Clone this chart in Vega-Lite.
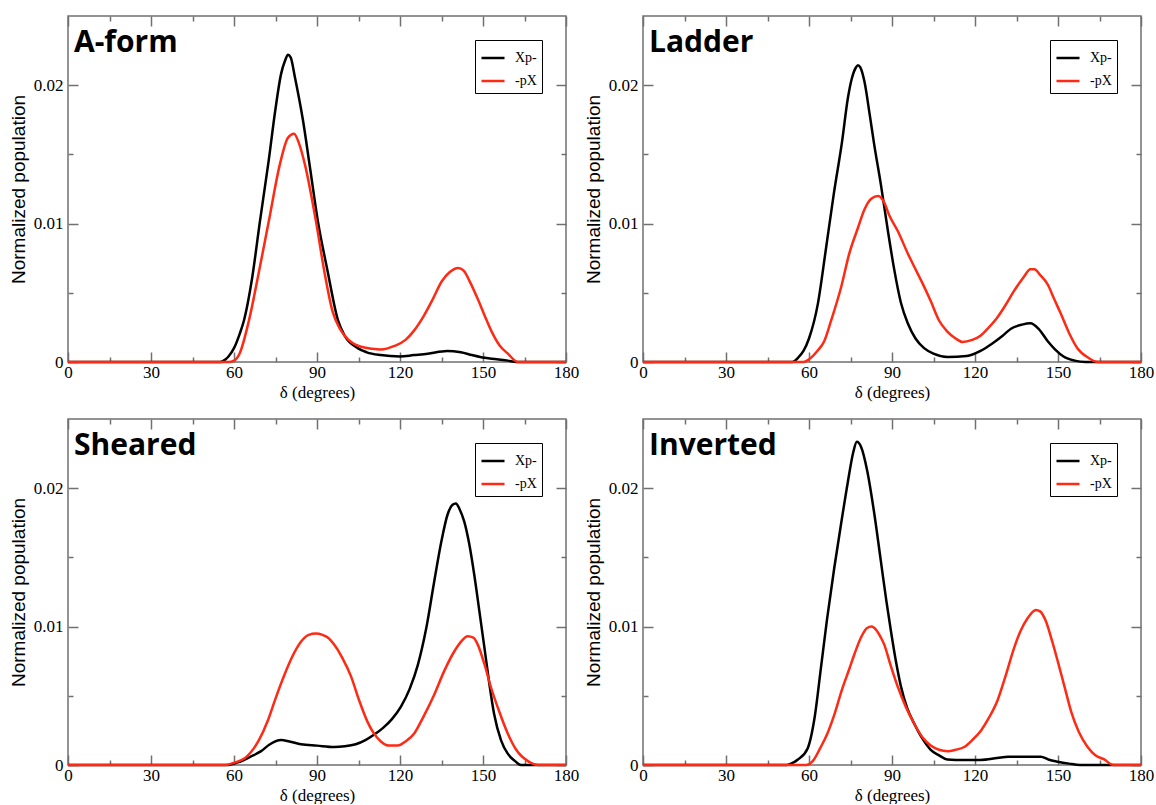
{
  "$schema": "https://vega.github.io/schema/vega-lite/v6.json",
  "background": "white",
  "padding": {"left": 8, "top": 14, "right": 5, "bottom": 0},
  "config": {
    "view": {"stroke": "#707070", "strokeWidth": 1.5},
    "legend": {"title": null, "orient": "top-right", "offset": 24, "strokeColor": "black", "fillColor": "white", "padding": 5, "symbolType": "stroke", "symbolSize": 530, "symbolStrokeWidth": 2.5, "labelFont": "Liberation Serif", "labelFontSize": 14, "labelColor": "black", "labelOffset": 9, "rowPadding": 3}
  },
  "datasets": {
    "curves": [
      {"panel":"A-form","series":"Xp-","delta":0,"pop":0},{"panel":"A-form","series":"Xp-","delta":50,"pop":0},{"panel":"A-form","series":"Xp-","delta":55,"pop":0},{"panel":"A-form","series":"Xp-","delta":57,"pop":0.0002},{"panel":"A-form","series":"Xp-","delta":58,"pop":0.0004},{"panel":"A-form","series":"Xp-","delta":60,"pop":0.001},{"panel":"A-form","series":"Xp-","delta":62,"pop":0.002},{"panel":"A-form","series":"Xp-","delta":63.6,"pop":0.003},{"panel":"A-form","series":"Xp-","delta":66.5,"pop":0.006},{"panel":"A-form","series":"Xp-","delta":69.4,"pop":0.0102},{"panel":"A-form","series":"Xp-","delta":72.5,"pop":0.0145},{"panel":"A-form","series":"Xp-","delta":75,"pop":0.0183},{"panel":"A-form","series":"Xp-","delta":77,"pop":0.0208},{"panel":"A-form","series":"Xp-","delta":78.5,"pop":0.0218},{"panel":"A-form","series":"Xp-","delta":79.5,"pop":0.0222},{"panel":"A-form","series":"Xp-","delta":80.5,"pop":0.022},{"panel":"A-form","series":"Xp-","delta":82,"pop":0.0206},{"panel":"A-form","series":"Xp-","delta":84.9,"pop":0.0175},{"panel":"A-form","series":"Xp-","delta":87.5,"pop":0.014},{"panel":"A-form","series":"Xp-","delta":90.3,"pop":0.0102},{"panel":"A-form","series":"Xp-","delta":93.8,"pop":0.0066},{"panel":"A-form","series":"Xp-","delta":97.6,"pop":0.003},{"panel":"A-form","series":"Xp-","delta":100,"pop":0.0019},{"panel":"A-form","series":"Xp-","delta":104.7,"pop":0.001},{"panel":"A-form","series":"Xp-","delta":108,"pop":0.0007},{"panel":"A-form","series":"Xp-","delta":113,"pop":0.0005},{"panel":"A-form","series":"Xp-","delta":120,"pop":0.0004},{"panel":"A-form","series":"Xp-","delta":125,"pop":0.0005},{"panel":"A-form","series":"Xp-","delta":130,"pop":0.0006},{"panel":"A-form","series":"Xp-","delta":137,"pop":0.0008},{"panel":"A-form","series":"Xp-","delta":142,"pop":0.0007},{"panel":"A-form","series":"Xp-","delta":146,"pop":0.0005},{"panel":"A-form","series":"Xp-","delta":149,"pop":0.00036},{"panel":"A-form","series":"Xp-","delta":155,"pop":0.0002},{"panel":"A-form","series":"Xp-","delta":159,"pop":0.0001},{"panel":"A-form","series":"Xp-","delta":162,"pop":0},{"panel":"A-form","series":"Xp-","delta":180,"pop":0},
      {"panel":"A-form","series":"-pX","delta":0,"pop":0},{"panel":"A-form","series":"-pX","delta":58,"pop":0},{"panel":"A-form","series":"-pX","delta":60,"pop":0.0001},{"panel":"A-form","series":"-pX","delta":62,"pop":0.0006},{"panel":"A-form","series":"-pX","delta":65.4,"pop":0.003},{"panel":"A-form","series":"-pX","delta":69,"pop":0.0065},{"panel":"A-form","series":"-pX","delta":72.6,"pop":0.0102},{"panel":"A-form","series":"-pX","delta":76.6,"pop":0.0143},{"panel":"A-form","series":"-pX","delta":79.5,"pop":0.0162},{"panel":"A-form","series":"-pX","delta":81.7,"pop":0.0165},{"panel":"A-form","series":"-pX","delta":83.5,"pop":0.0158},{"panel":"A-form","series":"-pX","delta":85.6,"pop":0.0143},{"panel":"A-form","series":"-pX","delta":89.6,"pop":0.0102},{"panel":"A-form","series":"-pX","delta":92.6,"pop":0.0066},{"panel":"A-form","series":"-pX","delta":95.7,"pop":0.0036},{"panel":"A-form","series":"-pX","delta":98,"pop":0.0025},{"panel":"A-form","series":"-pX","delta":100,"pop":0.0019},{"panel":"A-form","series":"-pX","delta":103,"pop":0.00135},{"panel":"A-form","series":"-pX","delta":106,"pop":0.0011},{"panel":"A-form","series":"-pX","delta":110,"pop":0.00095},{"panel":"A-form","series":"-pX","delta":113,"pop":0.0009},{"panel":"A-form","series":"-pX","delta":118,"pop":0.00116},{"panel":"A-form","series":"-pX","delta":122,"pop":0.0016},{"panel":"A-form","series":"-pX","delta":125,"pop":0.00225},{"panel":"A-form","series":"-pX","delta":128.5,"pop":0.0033},{"panel":"A-form","series":"-pX","delta":132,"pop":0.0046},{"panel":"A-form","series":"-pX","delta":135,"pop":0.0058},{"panel":"A-form","series":"-pX","delta":138,"pop":0.0065},{"panel":"A-form","series":"-pX","delta":141,"pop":0.0068},{"panel":"A-form","series":"-pX","delta":143,"pop":0.0066},{"panel":"A-form","series":"-pX","delta":145.5,"pop":0.0057},{"panel":"A-form","series":"-pX","delta":148,"pop":0.0046},{"panel":"A-form","series":"-pX","delta":150.5,"pop":0.0034},{"panel":"A-form","series":"-pX","delta":153,"pop":0.00225},{"panel":"A-form","series":"-pX","delta":156,"pop":0.0012},{"panel":"A-form","series":"-pX","delta":159,"pop":0.0006},{"panel":"A-form","series":"-pX","delta":162.6,"pop":0},{"panel":"A-form","series":"-pX","delta":180,"pop":0},
      {"panel":"Ladder","series":"Xp-","delta":0,"pop":0},{"panel":"Ladder","series":"Xp-","delta":54,"pop":0},{"panel":"Ladder","series":"Xp-","delta":56,"pop":0.0003},{"panel":"Ladder","series":"Xp-","delta":58,"pop":0.0008},{"panel":"Ladder","series":"Xp-","delta":60,"pop":0.0017},{"panel":"Ladder","series":"Xp-","delta":63.2,"pop":0.0042},{"panel":"Ladder","series":"Xp-","delta":66,"pop":0.008},{"panel":"Ladder","series":"Xp-","delta":69,"pop":0.0122},{"panel":"Ladder","series":"Xp-","delta":72,"pop":0.016},{"panel":"Ladder","series":"Xp-","delta":74,"pop":0.019},{"panel":"Ladder","series":"Xp-","delta":75.5,"pop":0.0205},{"panel":"Ladder","series":"Xp-","delta":77,"pop":0.0213},{"panel":"Ladder","series":"Xp-","delta":77.7,"pop":0.02145},{"panel":"Ladder","series":"Xp-","delta":78.5,"pop":0.0213},{"panel":"Ladder","series":"Xp-","delta":80,"pop":0.0203},{"panel":"Ladder","series":"Xp-","delta":82,"pop":0.0178},{"panel":"Ladder","series":"Xp-","delta":83.5,"pop":0.0158},{"panel":"Ladder","series":"Xp-","delta":86,"pop":0.0128},{"panel":"Ladder","series":"Xp-","delta":88.5,"pop":0.0095},{"panel":"Ladder","series":"Xp-","delta":90.7,"pop":0.0068},{"panel":"Ladder","series":"Xp-","delta":93.2,"pop":0.0043},{"panel":"Ladder","series":"Xp-","delta":95.7,"pop":0.0028},{"panel":"Ladder","series":"Xp-","delta":98.5,"pop":0.0017},{"panel":"Ladder","series":"Xp-","delta":101.6,"pop":0.001},{"panel":"Ladder","series":"Xp-","delta":105,"pop":0.0006},{"panel":"Ladder","series":"Xp-","delta":110,"pop":0.00036},{"panel":"Ladder","series":"Xp-","delta":117,"pop":0.00043},{"panel":"Ladder","series":"Xp-","delta":122,"pop":0.0008},{"panel":"Ladder","series":"Xp-","delta":126,"pop":0.0013},{"panel":"Ladder","series":"Xp-","delta":130,"pop":0.0019},{"panel":"Ladder","series":"Xp-","delta":133,"pop":0.0024},{"panel":"Ladder","series":"Xp-","delta":137,"pop":0.0027},{"panel":"Ladder","series":"Xp-","delta":140,"pop":0.0028},{"panel":"Ladder","series":"Xp-","delta":143,"pop":0.0024},{"panel":"Ladder","series":"Xp-","delta":146.3,"pop":0.0015},{"panel":"Ladder","series":"Xp-","delta":149,"pop":0.0009},{"panel":"Ladder","series":"Xp-","delta":152,"pop":0.0004},{"panel":"Ladder","series":"Xp-","delta":156,"pop":0.0001},{"panel":"Ladder","series":"Xp-","delta":160,"pop":0},{"panel":"Ladder","series":"Xp-","delta":180,"pop":0},
      {"panel":"Ladder","series":"-pX","delta":0,"pop":0},{"panel":"Ladder","series":"-pX","delta":58,"pop":0},{"panel":"Ladder","series":"-pX","delta":60,"pop":0.0002},{"panel":"Ladder","series":"-pX","delta":63,"pop":0.0008},{"panel":"Ladder","series":"-pX","delta":65.5,"pop":0.0015},{"panel":"Ladder","series":"-pX","delta":68,"pop":0.003},{"panel":"Ladder","series":"-pX","delta":71.6,"pop":0.0054},{"panel":"Ladder","series":"-pX","delta":74.5,"pop":0.0078},{"panel":"Ladder","series":"-pX","delta":77.7,"pop":0.0097},{"panel":"Ladder","series":"-pX","delta":80,"pop":0.011},{"panel":"Ladder","series":"-pX","delta":82.5,"pop":0.0118},{"panel":"Ladder","series":"-pX","delta":85,"pop":0.012},{"panel":"Ladder","series":"-pX","delta":87,"pop":0.0116},{"panel":"Ladder","series":"-pX","delta":89,"pop":0.0106},{"panel":"Ladder","series":"-pX","delta":92,"pop":0.0095},{"panel":"Ladder","series":"-pX","delta":95.8,"pop":0.0078},{"panel":"Ladder","series":"-pX","delta":98,"pop":0.0069},{"panel":"Ladder","series":"-pX","delta":101,"pop":0.0057},{"panel":"Ladder","series":"-pX","delta":104,"pop":0.0044},{"panel":"Ladder","series":"-pX","delta":107,"pop":0.003},{"panel":"Ladder","series":"-pX","delta":110,"pop":0.0022},{"panel":"Ladder","series":"-pX","delta":113,"pop":0.0017},{"panel":"Ladder","series":"-pX","delta":115.5,"pop":0.00145},{"panel":"Ladder","series":"-pX","delta":119,"pop":0.0016},{"panel":"Ladder","series":"-pX","delta":122,"pop":0.0019},{"panel":"Ladder","series":"-pX","delta":125,"pop":0.0025},{"panel":"Ladder","series":"-pX","delta":128,"pop":0.0032},{"panel":"Ladder","series":"-pX","delta":131,"pop":0.0041},{"panel":"Ladder","series":"-pX","delta":134,"pop":0.0051},{"panel":"Ladder","series":"-pX","delta":137.5,"pop":0.0061},{"panel":"Ladder","series":"-pX","delta":140,"pop":0.0067},{"panel":"Ladder","series":"-pX","delta":141.5,"pop":0.0067},{"panel":"Ladder","series":"-pX","delta":143.5,"pop":0.0063},{"panel":"Ladder","series":"-pX","delta":146.3,"pop":0.0056},{"panel":"Ladder","series":"-pX","delta":148.5,"pop":0.0046},{"panel":"Ladder","series":"-pX","delta":151,"pop":0.0035},{"panel":"Ladder","series":"-pX","delta":154,"pop":0.0021},{"panel":"Ladder","series":"-pX","delta":157,"pop":0.001},{"panel":"Ladder","series":"-pX","delta":161,"pop":0.0003},{"panel":"Ladder","series":"-pX","delta":164.5,"pop":0},{"panel":"Ladder","series":"-pX","delta":180,"pop":0},
      {"panel":"Sheared","series":"Xp-","delta":0,"pop":0},{"panel":"Sheared","series":"Xp-","delta":58,"pop":0},{"panel":"Sheared","series":"Xp-","delta":60,"pop":0.0001},{"panel":"Sheared","series":"Xp-","delta":63,"pop":0.0003},{"panel":"Sheared","series":"Xp-","delta":66,"pop":0.0006},{"panel":"Sheared","series":"Xp-","delta":69.8,"pop":0.001},{"panel":"Sheared","series":"Xp-","delta":73,"pop":0.0015},{"panel":"Sheared","series":"Xp-","delta":77,"pop":0.0018},{"panel":"Sheared","series":"Xp-","delta":80,"pop":0.0017},{"panel":"Sheared","series":"Xp-","delta":84.2,"pop":0.0015},{"panel":"Sheared","series":"Xp-","delta":90,"pop":0.0014},{"panel":"Sheared","series":"Xp-","delta":96.2,"pop":0.0013},{"panel":"Sheared","series":"Xp-","delta":100,"pop":0.00135},{"panel":"Sheared","series":"Xp-","delta":104,"pop":0.0015},{"panel":"Sheared","series":"Xp-","delta":107.5,"pop":0.0018},{"panel":"Sheared","series":"Xp-","delta":110.7,"pop":0.0022},{"panel":"Sheared","series":"Xp-","delta":114,"pop":0.0027},{"panel":"Sheared","series":"Xp-","delta":117,"pop":0.0033},{"panel":"Sheared","series":"Xp-","delta":120.3,"pop":0.0042},{"panel":"Sheared","series":"Xp-","delta":123.5,"pop":0.0055},{"panel":"Sheared","series":"Xp-","delta":126.4,"pop":0.0072},{"panel":"Sheared","series":"Xp-","delta":129.5,"pop":0.0099},{"panel":"Sheared","series":"Xp-","delta":132.4,"pop":0.0133},{"panel":"Sheared","series":"Xp-","delta":135,"pop":0.0162},{"panel":"Sheared","series":"Xp-","delta":137.2,"pop":0.0181},{"panel":"Sheared","series":"Xp-","delta":139,"pop":0.0188},{"panel":"Sheared","series":"Xp-","delta":140.2,"pop":0.0189},{"panel":"Sheared","series":"Xp-","delta":141.5,"pop":0.0185},{"panel":"Sheared","series":"Xp-","delta":143.2,"pop":0.0176},{"panel":"Sheared","series":"Xp-","delta":145,"pop":0.016},{"panel":"Sheared","series":"Xp-","delta":146.8,"pop":0.0138},{"panel":"Sheared","series":"Xp-","delta":148.7,"pop":0.0111},{"panel":"Sheared","series":"Xp-","delta":150.5,"pop":0.0085},{"panel":"Sheared","series":"Xp-","delta":152.2,"pop":0.006},{"panel":"Sheared","series":"Xp-","delta":154,"pop":0.0037},{"panel":"Sheared","series":"Xp-","delta":156.5,"pop":0.0018},{"panel":"Sheared","series":"Xp-","delta":159,"pop":0.0008},{"panel":"Sheared","series":"Xp-","delta":161.5,"pop":0.0003},{"panel":"Sheared","series":"Xp-","delta":163.7,"pop":0},{"panel":"Sheared","series":"Xp-","delta":180,"pop":0},
      {"panel":"Sheared","series":"-pX","delta":0,"pop":0},{"panel":"Sheared","series":"-pX","delta":57,"pop":0},{"panel":"Sheared","series":"-pX","delta":59,"pop":0.0001},{"panel":"Sheared","series":"-pX","delta":62,"pop":0.0003},{"panel":"Sheared","series":"-pX","delta":64,"pop":0.0005},{"panel":"Sheared","series":"-pX","delta":66,"pop":0.0009},{"panel":"Sheared","series":"-pX","delta":69,"pop":0.0018},{"panel":"Sheared","series":"-pX","delta":72.2,"pop":0.0032},{"panel":"Sheared","series":"-pX","delta":75,"pop":0.0048},{"panel":"Sheared","series":"-pX","delta":78.2,"pop":0.0065},{"panel":"Sheared","series":"-pX","delta":81,"pop":0.0078},{"panel":"Sheared","series":"-pX","delta":84.2,"pop":0.0089},{"panel":"Sheared","series":"-pX","delta":87,"pop":0.0094},{"panel":"Sheared","series":"-pX","delta":89.6,"pop":0.0095},{"panel":"Sheared","series":"-pX","delta":92,"pop":0.0094},{"panel":"Sheared","series":"-pX","delta":94,"pop":0.0092},{"panel":"Sheared","series":"-pX","delta":96.2,"pop":0.0087},{"panel":"Sheared","series":"-pX","delta":99,"pop":0.0078},{"panel":"Sheared","series":"-pX","delta":102.3,"pop":0.0064},{"panel":"Sheared","series":"-pX","delta":105,"pop":0.0048},{"panel":"Sheared","series":"-pX","delta":108.3,"pop":0.0031},{"panel":"Sheared","series":"-pX","delta":110.5,"pop":0.0023},{"panel":"Sheared","series":"-pX","delta":113.1,"pop":0.0017},{"panel":"Sheared","series":"-pX","delta":116,"pop":0.0014},{"panel":"Sheared","series":"-pX","delta":119.2,"pop":0.0014},{"panel":"Sheared","series":"-pX","delta":122,"pop":0.0017},{"panel":"Sheared","series":"-pX","delta":125.2,"pop":0.0023},{"panel":"Sheared","series":"-pX","delta":128.5,"pop":0.0035},{"panel":"Sheared","series":"-pX","delta":132.4,"pop":0.0051},{"panel":"Sheared","series":"-pX","delta":136,"pop":0.0068},{"panel":"Sheared","series":"-pX","delta":139.6,"pop":0.0082},{"panel":"Sheared","series":"-pX","delta":142,"pop":0.0089},{"panel":"Sheared","series":"-pX","delta":144.5,"pop":0.0093},{"panel":"Sheared","series":"-pX","delta":146.5,"pop":0.0092},{"panel":"Sheared","series":"-pX","delta":148.1,"pop":0.0087},{"panel":"Sheared","series":"-pX","delta":150.5,"pop":0.0073},{"panel":"Sheared","series":"-pX","delta":152.9,"pop":0.0056},{"panel":"Sheared","series":"-pX","delta":155.8,"pop":0.0039},{"panel":"Sheared","series":"-pX","delta":158.9,"pop":0.0023},{"panel":"Sheared","series":"-pX","delta":162,"pop":0.0011},{"panel":"Sheared","series":"-pX","delta":166.1,"pop":0.0003},{"panel":"Sheared","series":"-pX","delta":170,"pop":0},{"panel":"Sheared","series":"-pX","delta":180,"pop":0},
      {"panel":"Inverted","series":"Xp-","delta":0,"pop":0},{"panel":"Inverted","series":"Xp-","delta":52,"pop":0},{"panel":"Inverted","series":"Xp-","delta":53.5,"pop":0.0001},{"panel":"Inverted","series":"Xp-","delta":56,"pop":0.0004},{"panel":"Inverted","series":"Xp-","delta":59.5,"pop":0.0012},{"panel":"Inverted","series":"Xp-","delta":62,"pop":0.0034},{"panel":"Inverted","series":"Xp-","delta":64.3,"pop":0.007},{"panel":"Inverted","series":"Xp-","delta":66.5,"pop":0.0105},{"panel":"Inverted","series":"Xp-","delta":69.1,"pop":0.0142},{"panel":"Inverted","series":"Xp-","delta":71.5,"pop":0.0173},{"panel":"Inverted","series":"Xp-","delta":74,"pop":0.0204},{"panel":"Inverted","series":"Xp-","delta":76,"pop":0.0226},{"panel":"Inverted","series":"Xp-","delta":77.3,"pop":0.02335},{"panel":"Inverted","series":"Xp-","delta":78.8,"pop":0.023},{"panel":"Inverted","series":"Xp-","delta":81,"pop":0.0213},{"panel":"Inverted","series":"Xp-","delta":83.5,"pop":0.0183},{"panel":"Inverted","series":"Xp-","delta":86,"pop":0.0147},{"panel":"Inverted","series":"Xp-","delta":88,"pop":0.0118},{"panel":"Inverted","series":"Xp-","delta":89.6,"pop":0.0097},{"panel":"Inverted","series":"Xp-","delta":91.5,"pop":0.0074},{"panel":"Inverted","series":"Xp-","delta":93.2,"pop":0.0057},{"panel":"Inverted","series":"Xp-","delta":95.5,"pop":0.0041},{"panel":"Inverted","series":"Xp-","delta":98,"pop":0.003},{"panel":"Inverted","series":"Xp-","delta":101,"pop":0.0019},{"panel":"Inverted","series":"Xp-","delta":104,"pop":0.0011},{"panel":"Inverted","series":"Xp-","delta":107,"pop":0.0007},{"panel":"Inverted","series":"Xp-","delta":110,"pop":0.0004},{"panel":"Inverted","series":"Xp-","delta":116,"pop":0.00036},{"panel":"Inverted","series":"Xp-","delta":122,"pop":0.00036},{"panel":"Inverted","series":"Xp-","delta":128,"pop":0.0005},{"panel":"Inverted","series":"Xp-","delta":132,"pop":0.0006},{"panel":"Inverted","series":"Xp-","delta":136.6,"pop":0.0006},{"panel":"Inverted","series":"Xp-","delta":143.8,"pop":0.0006},{"panel":"Inverted","series":"Xp-","delta":146.5,"pop":0.0004},{"panel":"Inverted","series":"Xp-","delta":149.9,"pop":0.00024},{"panel":"Inverted","series":"Xp-","delta":154,"pop":0.0001},{"panel":"Inverted","series":"Xp-","delta":158,"pop":0},{"panel":"Inverted","series":"Xp-","delta":180,"pop":0},
      {"panel":"Inverted","series":"-pX","delta":0,"pop":0},{"panel":"Inverted","series":"-pX","delta":59,"pop":0},{"panel":"Inverted","series":"-pX","delta":61.8,"pop":0.0004},{"panel":"Inverted","series":"-pX","delta":64,"pop":0.0012},{"panel":"Inverted","series":"-pX","delta":66.5,"pop":0.0022},{"panel":"Inverted","series":"-pX","delta":69.1,"pop":0.0036},{"panel":"Inverted","series":"-pX","delta":72,"pop":0.0055},{"panel":"Inverted","series":"-pX","delta":74.5,"pop":0.0069},{"panel":"Inverted","series":"-pX","delta":76.4,"pop":0.008},{"panel":"Inverted","series":"-pX","delta":79,"pop":0.0093},{"panel":"Inverted","series":"-pX","delta":81,"pop":0.0099},{"panel":"Inverted","series":"-pX","delta":82.6,"pop":0.01},{"panel":"Inverted","series":"-pX","delta":84.5,"pop":0.0097},{"panel":"Inverted","series":"-pX","delta":86,"pop":0.0092},{"panel":"Inverted","series":"-pX","delta":87.2,"pop":0.0087},{"panel":"Inverted","series":"-pX","delta":89.5,"pop":0.0072},{"panel":"Inverted","series":"-pX","delta":92,"pop":0.0057},{"panel":"Inverted","series":"-pX","delta":95,"pop":0.0042},{"panel":"Inverted","series":"-pX","delta":98,"pop":0.003},{"panel":"Inverted","series":"-pX","delta":101,"pop":0.002},{"panel":"Inverted","series":"-pX","delta":104,"pop":0.0014},{"panel":"Inverted","series":"-pX","delta":107,"pop":0.0011},{"panel":"Inverted","series":"-pX","delta":110.1,"pop":0.001},{"panel":"Inverted","series":"-pX","delta":113,"pop":0.0011},{"panel":"Inverted","series":"-pX","delta":116.1,"pop":0.0013},{"panel":"Inverted","series":"-pX","delta":119,"pop":0.0018},{"panel":"Inverted","series":"-pX","delta":122.2,"pop":0.0025},{"panel":"Inverted","series":"-pX","delta":125,"pop":0.0034},{"panel":"Inverted","series":"-pX","delta":128.2,"pop":0.0047},{"panel":"Inverted","series":"-pX","delta":131,"pop":0.0064},{"panel":"Inverted","series":"-pX","delta":134.2,"pop":0.0085},{"panel":"Inverted","series":"-pX","delta":136.5,"pop":0.0097},{"panel":"Inverted","series":"-pX","delta":139,"pop":0.0106},{"panel":"Inverted","series":"-pX","delta":142,"pop":0.0112},{"panel":"Inverted","series":"-pX","delta":143.5,"pop":0.0111},{"panel":"Inverted","series":"-pX","delta":145.6,"pop":0.0104},{"panel":"Inverted","series":"-pX","delta":147.8,"pop":0.009},{"panel":"Inverted","series":"-pX","delta":149.9,"pop":0.0075},{"panel":"Inverted","series":"-pX","delta":152.3,"pop":0.0057},{"panel":"Inverted","series":"-pX","delta":154.7,"pop":0.0039},{"panel":"Inverted","series":"-pX","delta":157.5,"pop":0.0024},{"panel":"Inverted","series":"-pX","delta":160.7,"pop":0.0013},{"panel":"Inverted","series":"-pX","delta":163.5,"pop":0.0007},{"panel":"Inverted","series":"-pX","delta":166.7,"pop":0.0004},{"panel":"Inverted","series":"-pX","delta":170,"pop":0},{"panel":"Inverted","series":"-pX","delta":180,"pop":0}
    ]
  },
  "columns": 2,
  "bounds": "flush",
  "spacing": {"row": 57, "column": 77},
  "resolve": {"scale": {"color": "independent"}, "legend": {"color": "independent"}},
  "concat": [
    {
      "width": 498, "height": 346,
      "layer": [
        {
          "data": {"name": "curves"},
          "transform": [{"filter": "datum.panel === 'A-form'"}],
          "mark": {"type": "line", "strokeWidth": 2.5, "interpolate": "monotone"},
          "encoding": {
            "x": {"field": "delta", "type": "quantitative", "scale": {"domain": [0, 180], "nice": false}, "axis": {"orient": "bottom", "grid": false, "domain": false, "tickColor": "#707070", "tickWidth": 1.5, "values": [0,15,30,45,60,75,90,105,120,135,150,165,180], "tickSize": {"condition": {"test": "datum.value % 30 === 0", "value": -10}, "value": -5}, "labelPadding": 12, "labelFlush": false, "labelOverlap": false, "labelFont": "Liberation Serif", "labelFontSize": 17, "labelColor": "black", "labelExpr": "datum.value % 30 === 0 ? datum.label : ''", "title": "δ (degrees)", "titleFont": "Liberation Serif", "titleFontSize": 17, "titleFontWeight": "normal", "titleColor": "black", "titlePadding": -1}},
            "y": {"field": "pop", "type": "quantitative", "scale": {"domain": [0, 0.025], "nice": false}, "axis": {"orient": "left", "grid": false, "domain": false, "tickColor": "#707070", "tickWidth": 1.5, "values": [0,0.005,0.01,0.015,0.02], "tickSize": {"condition": {"test": "round(datum.value*200) % 2 === 0", "value": -10}, "value": -5}, "labelPadding": 15, "labelFont": "Liberation Serif", "labelFontSize": 17, "labelColor": "black", "labelExpr": "round(datum.value*200) % 2 === 0 ? (datum.value === 0 ? '0' : format(datum.value, '.2f')) : ''", "title": "Normalized population", "titleFont": "Liberation Sans", "titleFontSize": 19, "titleFontWeight": "normal", "titleColor": "black", "titlePadding": 5}},
            "color": {"field": "series", "type": "nominal", "scale": {"domain": ["Xp-", "-pX"], "range": ["#000000", "#ff2a14"]}}
          }
        },
        {
          "data": {"name": "curves"},
          "transform": [{"filter": "datum.panel === 'A-form'"}],
          "mark": {"type": "line", "strokeOpacity": 0},
          "encoding": {
            "x": {"field": "delta", "type": "quantitative", "axis": {"orient": "top", "grid": false, "domain": false, "tickColor": "#707070", "tickWidth": 1.5, "values": [0,15,30,45,60,75,90,105,120,135,150,165,180], "tickSize": {"condition": {"test": "datum.value % 30 === 0", "value": -10}, "value": -5}, "labels": false, "title": null}},
            "y": {"field": "pop", "type": "quantitative", "axis": {"orient": "right", "grid": false, "domain": false, "tickColor": "#707070", "tickWidth": 1.5, "values": [0,0.005,0.01,0.015,0.02], "tickSize": {"condition": {"test": "round(datum.value*200) % 2 === 0", "value": -10}, "value": -5}, "labels": false, "title": null}},
            "detail": {"field": "series"}
          }
        },
        {
          "data": {"values": [{"name": "A-form"}]},
          "mark": {"type": "text", "font": "Open Sans", "fontSize": 30, "fontWeight": "bold", "align": "left", "baseline": "alphabetic", "dx": 6, "dy": 36, "color": "black"},
          "encoding": {
            "x": {"datum": 0, "type": "quantitative", "axis": null},
            "y": {"datum": 0.025, "type": "quantitative", "axis": null},
            "text": {"field": "name"}
          }
        }
      ],
      "resolve": {"axis": {"x": "independent", "y": "independent"}}
    },
    {
      "width": 498, "height": 346,
      "layer": [
        {
          "data": {"name": "curves"},
          "transform": [{"filter": "datum.panel === 'Ladder'"}],
          "mark": {"type": "line", "strokeWidth": 2.5, "interpolate": "monotone"},
          "encoding": {
            "x": {"field": "delta", "type": "quantitative", "scale": {"domain": [0, 180], "nice": false}, "axis": {"orient": "bottom", "grid": false, "domain": false, "tickColor": "#707070", "tickWidth": 1.5, "values": [0,15,30,45,60,75,90,105,120,135,150,165,180], "tickSize": {"condition": {"test": "datum.value % 30 === 0", "value": -10}, "value": -5}, "labelPadding": 12, "labelFlush": false, "labelOverlap": false, "labelFont": "Liberation Serif", "labelFontSize": 17, "labelColor": "black", "labelExpr": "datum.value % 30 === 0 ? datum.label : ''", "title": "δ (degrees)", "titleFont": "Liberation Serif", "titleFontSize": 17, "titleFontWeight": "normal", "titleColor": "black", "titlePadding": -1}},
            "y": {"field": "pop", "type": "quantitative", "scale": {"domain": [0, 0.025], "nice": false}, "axis": {"orient": "left", "grid": false, "domain": false, "tickColor": "#707070", "tickWidth": 1.5, "values": [0,0.005,0.01,0.015,0.02], "tickSize": {"condition": {"test": "round(datum.value*200) % 2 === 0", "value": -10}, "value": -5}, "labelPadding": 15, "labelFont": "Liberation Serif", "labelFontSize": 17, "labelColor": "black", "labelExpr": "round(datum.value*200) % 2 === 0 ? (datum.value === 0 ? '0' : format(datum.value, '.2f')) : ''", "title": "Normalized population", "titleFont": "Liberation Sans", "titleFontSize": 19, "titleFontWeight": "normal", "titleColor": "black", "titlePadding": 5}},
            "color": {"field": "series", "type": "nominal", "scale": {"domain": ["Xp-", "-pX"], "range": ["#000000", "#ff2a14"]}}
          }
        },
        {
          "data": {"name": "curves"},
          "transform": [{"filter": "datum.panel === 'Ladder'"}],
          "mark": {"type": "line", "strokeOpacity": 0},
          "encoding": {
            "x": {"field": "delta", "type": "quantitative", "axis": {"orient": "top", "grid": false, "domain": false, "tickColor": "#707070", "tickWidth": 1.5, "values": [0,15,30,45,60,75,90,105,120,135,150,165,180], "tickSize": {"condition": {"test": "datum.value % 30 === 0", "value": -10}, "value": -5}, "labels": false, "title": null}},
            "y": {"field": "pop", "type": "quantitative", "axis": {"orient": "right", "grid": false, "domain": false, "tickColor": "#707070", "tickWidth": 1.5, "values": [0,0.005,0.01,0.015,0.02], "tickSize": {"condition": {"test": "round(datum.value*200) % 2 === 0", "value": -10}, "value": -5}, "labels": false, "title": null}},
            "detail": {"field": "series"}
          }
        },
        {
          "data": {"values": [{"name": "Ladder"}]},
          "mark": {"type": "text", "font": "Open Sans", "fontSize": 30, "fontWeight": "bold", "align": "left", "baseline": "alphabetic", "dx": 6, "dy": 36, "color": "black"},
          "encoding": {
            "x": {"datum": 0, "type": "quantitative", "axis": null},
            "y": {"datum": 0.025, "type": "quantitative", "axis": null},
            "text": {"field": "name"}
          }
        }
      ],
      "resolve": {"axis": {"x": "independent", "y": "independent"}}
    },
    {
      "width": 498, "height": 346,
      "layer": [
        {
          "data": {"name": "curves"},
          "transform": [{"filter": "datum.panel === 'Sheared'"}],
          "mark": {"type": "line", "strokeWidth": 2.5, "interpolate": "monotone"},
          "encoding": {
            "x": {"field": "delta", "type": "quantitative", "scale": {"domain": [0, 180], "nice": false}, "axis": {"orient": "bottom", "grid": false, "domain": false, "tickColor": "#707070", "tickWidth": 1.5, "values": [0,15,30,45,60,75,90,105,120,135,150,165,180], "tickSize": {"condition": {"test": "datum.value % 30 === 0", "value": -10}, "value": -5}, "labelPadding": 12, "labelFlush": false, "labelOverlap": false, "labelFont": "Liberation Serif", "labelFontSize": 17, "labelColor": "black", "labelExpr": "datum.value % 30 === 0 ? datum.label : ''", "title": "δ (degrees)", "titleFont": "Liberation Serif", "titleFontSize": 17, "titleFontWeight": "normal", "titleColor": "black", "titlePadding": -1}},
            "y": {"field": "pop", "type": "quantitative", "scale": {"domain": [0, 0.025], "nice": false}, "axis": {"orient": "left", "grid": false, "domain": false, "tickColor": "#707070", "tickWidth": 1.5, "values": [0,0.005,0.01,0.015,0.02], "tickSize": {"condition": {"test": "round(datum.value*200) % 2 === 0", "value": -10}, "value": -5}, "labelPadding": 15, "labelFont": "Liberation Serif", "labelFontSize": 17, "labelColor": "black", "labelExpr": "round(datum.value*200) % 2 === 0 ? (datum.value === 0 ? '0' : format(datum.value, '.2f')) : ''", "title": "Normalized population", "titleFont": "Liberation Sans", "titleFontSize": 19, "titleFontWeight": "normal", "titleColor": "black", "titlePadding": 5}},
            "color": {"field": "series", "type": "nominal", "scale": {"domain": ["Xp-", "-pX"], "range": ["#000000", "#ff2a14"]}}
          }
        },
        {
          "data": {"name": "curves"},
          "transform": [{"filter": "datum.panel === 'Sheared'"}],
          "mark": {"type": "line", "strokeOpacity": 0},
          "encoding": {
            "x": {"field": "delta", "type": "quantitative", "axis": {"orient": "top", "grid": false, "domain": false, "tickColor": "#707070", "tickWidth": 1.5, "values": [0,15,30,45,60,75,90,105,120,135,150,165,180], "tickSize": {"condition": {"test": "datum.value % 30 === 0", "value": -10}, "value": -5}, "labels": false, "title": null}},
            "y": {"field": "pop", "type": "quantitative", "axis": {"orient": "right", "grid": false, "domain": false, "tickColor": "#707070", "tickWidth": 1.5, "values": [0,0.005,0.01,0.015,0.02], "tickSize": {"condition": {"test": "round(datum.value*200) % 2 === 0", "value": -10}, "value": -5}, "labels": false, "title": null}},
            "detail": {"field": "series"}
          }
        },
        {
          "data": {"values": [{"name": "Sheared"}]},
          "mark": {"type": "text", "font": "Open Sans", "fontSize": 30, "fontWeight": "bold", "align": "left", "baseline": "alphabetic", "dx": 6, "dy": 36, "color": "black"},
          "encoding": {
            "x": {"datum": 0, "type": "quantitative", "axis": null},
            "y": {"datum": 0.025, "type": "quantitative", "axis": null},
            "text": {"field": "name"}
          }
        }
      ],
      "resolve": {"axis": {"x": "independent", "y": "independent"}}
    },
    {
      "width": 498, "height": 346,
      "layer": [
        {
          "data": {"name": "curves"},
          "transform": [{"filter": "datum.panel === 'Inverted'"}],
          "mark": {"type": "line", "strokeWidth": 2.5, "interpolate": "monotone"},
          "encoding": {
            "x": {"field": "delta", "type": "quantitative", "scale": {"domain": [0, 180], "nice": false}, "axis": {"orient": "bottom", "grid": false, "domain": false, "tickColor": "#707070", "tickWidth": 1.5, "values": [0,15,30,45,60,75,90,105,120,135,150,165,180], "tickSize": {"condition": {"test": "datum.value % 30 === 0", "value": -10}, "value": -5}, "labelPadding": 12, "labelFlush": false, "labelOverlap": false, "labelFont": "Liberation Serif", "labelFontSize": 17, "labelColor": "black", "labelExpr": "datum.value % 30 === 0 ? datum.label : ''", "title": "δ (degrees)", "titleFont": "Liberation Serif", "titleFontSize": 17, "titleFontWeight": "normal", "titleColor": "black", "titlePadding": -1}},
            "y": {"field": "pop", "type": "quantitative", "scale": {"domain": [0, 0.025], "nice": false}, "axis": {"orient": "left", "grid": false, "domain": false, "tickColor": "#707070", "tickWidth": 1.5, "values": [0,0.005,0.01,0.015,0.02], "tickSize": {"condition": {"test": "round(datum.value*200) % 2 === 0", "value": -10}, "value": -5}, "labelPadding": 15, "labelFont": "Liberation Serif", "labelFontSize": 17, "labelColor": "black", "labelExpr": "round(datum.value*200) % 2 === 0 ? (datum.value === 0 ? '0' : format(datum.value, '.2f')) : ''", "title": "Normalized population", "titleFont": "Liberation Sans", "titleFontSize": 19, "titleFontWeight": "normal", "titleColor": "black", "titlePadding": 5}},
            "color": {"field": "series", "type": "nominal", "scale": {"domain": ["Xp-", "-pX"], "range": ["#000000", "#ff2a14"]}}
          }
        },
        {
          "data": {"name": "curves"},
          "transform": [{"filter": "datum.panel === 'Inverted'"}],
          "mark": {"type": "line", "strokeOpacity": 0},
          "encoding": {
            "x": {"field": "delta", "type": "quantitative", "axis": {"orient": "top", "grid": false, "domain": false, "tickColor": "#707070", "tickWidth": 1.5, "values": [0,15,30,45,60,75,90,105,120,135,150,165,180], "tickSize": {"condition": {"test": "datum.value % 30 === 0", "value": -10}, "value": -5}, "labels": false, "title": null}},
            "y": {"field": "pop", "type": "quantitative", "axis": {"orient": "right", "grid": false, "domain": false, "tickColor": "#707070", "tickWidth": 1.5, "values": [0,0.005,0.01,0.015,0.02], "tickSize": {"condition": {"test": "round(datum.value*200) % 2 === 0", "value": -10}, "value": -5}, "labels": false, "title": null}},
            "detail": {"field": "series"}
          }
        },
        {
          "data": {"values": [{"name": "Inverted"}]},
          "mark": {"type": "text", "font": "Open Sans", "fontSize": 30, "fontWeight": "bold", "align": "left", "baseline": "alphabetic", "dx": 6, "dy": 36, "color": "black"},
          "encoding": {
            "x": {"datum": 0, "type": "quantitative", "axis": null},
            "y": {"datum": 0.025, "type": "quantitative", "axis": null},
            "text": {"field": "name"}
          }
        }
      ],
      "resolve": {"axis": {"x": "independent", "y": "independent"}}
    }
  ]
}
